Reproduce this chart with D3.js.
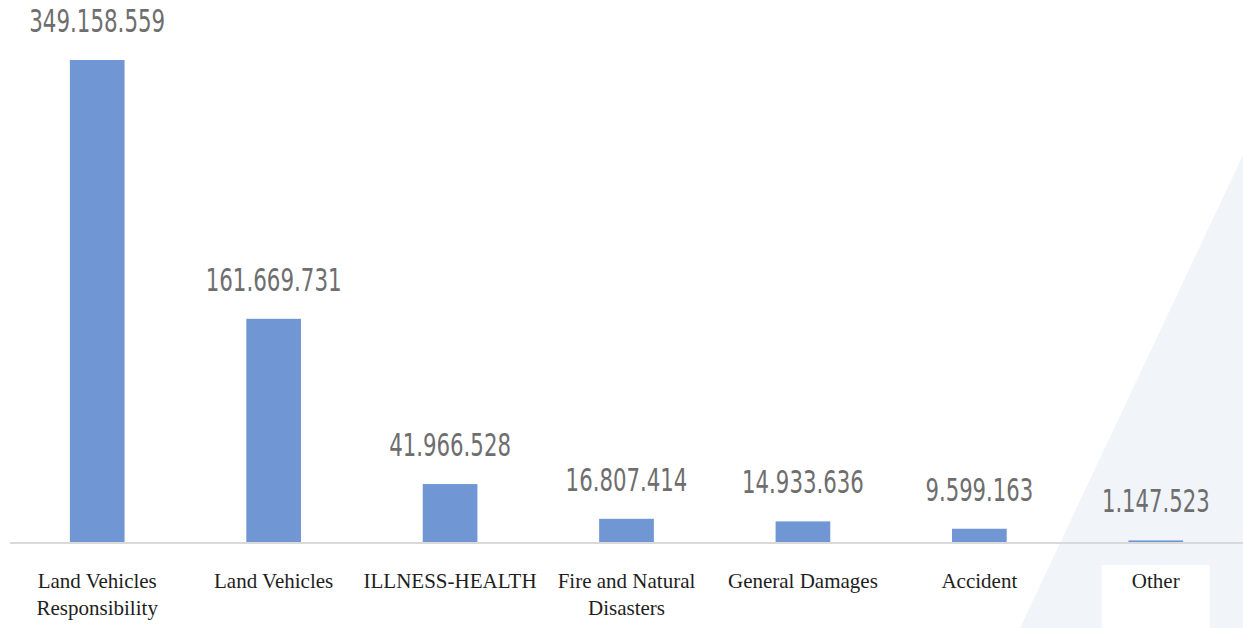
<!DOCTYPE html>
<html>
<head>
<meta charset="utf-8">
<script src="https://cdn.jsdelivr.net/npm/d3@7"></script>
<style>
  body { margin: 0; background: #fff; }
</style>
</head>
<body>
<div id="container"></div>
<script>
let w = 1243;
let h = 628;

// data
let categories = [
  ['Land Vehicles', 'Responsibility'],
  ['Land Vehicles'],
  ['ILLNESS-HEALTH'],
  ['Fire and Natural', 'Disasters'],
  ['General Damages'],
  ['Accident'],
  ['Other']
];
let values = [349158559, 161669731, 41966528, 16807414, 14933636, 9599163, 1147523];
let valueLabels = ['349.158.559', '161.669.731', '41.966.528', '16.807.414', '14.933.636', '9.599.163', '1.147.523'];

let viz = d3.select('#container')
  .append('svg')
    .attr('width', w)
    .attr('height', h)
    .style('background-color', 'white');

// faint decorative triangle at the right
viz.append('path')
  .attr('d', 'M1243,155 L1243,628 L1020,628 Z')
  .attr('fill', '#f1f4f9');

let baseY = 542;
let idx = values.map((d, i) => i);

let xScale = d3.scaleBand()
  .domain(idx)
  .range([9, 1244])
  .paddingInner(0.69)
  .paddingOuter(0.345);

let yScale = d3.scaleLinear()
  .domain([0, 349158559])
  .range([baseY, 60]);

// white box behind "Other"
viz.append('rect')
  .attr('x', xScale(6) + xScale.bandwidth() / 2 - 54)
  .attr('y', 565)
  .attr('width', 108)
  .attr('height', 63)
  .attr('fill', '#ffffff');

// baseline
viz.append('line')
  .attr('x1', 10).attr('x2', w)
  .attr('y1', baseY + 1).attr('y2', baseY + 1)
  .attr('stroke', '#d9d9d9')
  .attr('stroke-width', 2);

viz.selectAll('.bar')
  .data(values)
  .enter()
  .append('rect')
    .attr('class', 'bar')
    .attr('x', (d, i) => xScale(i))
    .attr('y', d => yScale(d))
    .attr('width', xScale.bandwidth())
    .attr('height', d => baseY - yScale(d))
    .attr('fill', '#7096d3');

// the labels are in a narrow font, squeeze them to the width seen
function labelWidth(s){
  let digits = s.replace(/\./g, '').length;
  let dots = s.length - digits;
  return digits * 14.1 + dots * 4.5;
}

viz.selectAll('.val')
  .data(values)
  .enter()
  .append('text')
    .attr('class', 'val')
    .attr('x', (d, i) => xScale(i) + xScale.bandwidth() / 2)
    .attr('y', d => yScale(d) - 28)
    .attr('text-anchor', 'middle')
    .attr('textLength', (d, i) => labelWidth(valueLabels[i]))
    .attr('lengthAdjust', 'spacingAndGlyphs')
    .style('font-family', '"DejaVu Sans Condensed", "DejaVu Sans", sans-serif')
    .style('font-size', '32px')
    .style('fill', '#6e6e6e')
    .text((d, i) => valueLabels[i]);

let catGroup = viz.selectAll('.cat')
  .data(categories)
  .enter()
  .append('text')
    .attr('class', 'cat')
    .attr('x', (d, i) => xScale(i) + xScale.bandwidth() / 2)
    .attr('y', 588)
    .attr('text-anchor', 'middle')
    .style('font-family', '"Liberation Serif", "Times New Roman", serif')
    .style('font-size', '21px')
    .style('fill', '#1e1e1e');

catGroup.selectAll('tspan')
  .data(d => d)
  .enter()
  .append('tspan')
    .attr('x', function() { return d3.select(this.parentNode).attr('x'); })
    .attr('dy', (d, i) => i == 0 ? 0 : 27)
    .text(d => d);
</script>
</body>
</html>
